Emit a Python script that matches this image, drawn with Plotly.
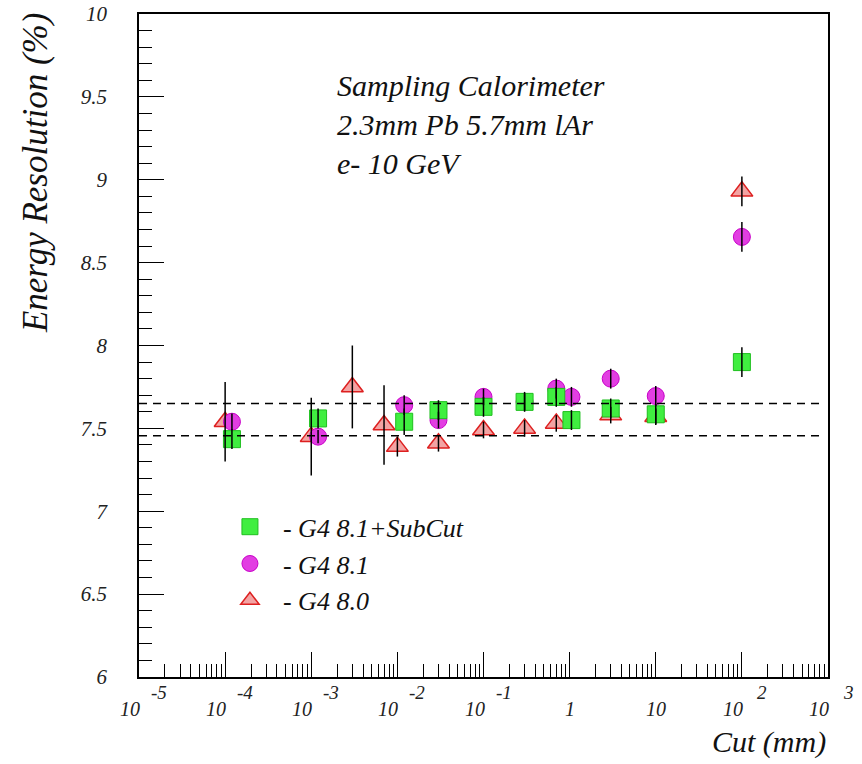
import plotly.graph_objects as go

# ---------------- data ----------------
cut_g480 = [1e-4, 1e-3, 3e-3, 7e-3, 1e-2, 3e-2, 0.1, 0.3, 0.7, 3, 10, 100]
res_g480 = [7.54, 7.45, 7.75, 7.52, 7.39, 7.41, 7.49, 7.50, 7.53, 7.58, 7.57, 8.93]
err_g480 = [0.24, 0.235, 0.25, 0.24, 0.06, 0.05, 0.05, 0.05, 0.05, 0.05, 0.05, 0.09]

cut_g481 = [1.2e-4, 1.2e-3, 1.2e-2, 3e-2, 0.1, 0.3, 0.7, 1.05, 3, 10, 100]
res_g481 = [7.54, 7.45, 7.64, 7.55, 7.69, 7.66, 7.74, 7.69, 7.80, 7.695, 8.655]
err_g481 = [0.05, 0.04, 0.06, 0.05, 0.05, 0.05, 0.06, 0.06, 0.06, 0.06, 0.09]

cut_sub = [1.2e-4, 1.2e-3, 1.2e-2, 3e-2, 0.1, 0.3, 0.7, 1.05, 3, 10, 100]
res_sub = [7.435, 7.56, 7.54, 7.61, 7.63, 7.66, 7.69, 7.55, 7.62, 7.585, 7.90]
err_sub = [0.06, 0.06, 0.08, 0.06, 0.06, 0.06, 0.06, 0.06, 0.06, 0.06, 0.09]

ref_levels = [7.455, 7.65]
decades = [-5, -4, -3, -2, -1, 0, 1, 2, 3]
info_lines = ["Sampling Calorimeter", "2.3mm Pb 5.7mm lAr", "e- 10 GeV"]
names = ["- G4 8.0", "- G4 8.1", "- G4 8.1+SubCut"]

FONT = "Liberation Serif"
PAD = "&nbsp;&nbsp;"

fig = go.Figure()

# markers (drawn triangle -> circle -> square)
fig.add_trace(go.Scatter(x=cut_g480, y=res_g480, mode="markers", name=PAD + names[0],
                         marker=dict(symbol="triangle-up", size=19, color="#f3a3a3",
                                     line=dict(color="#dd2020", width=1.5))))
fig.add_trace(go.Scatter(x=cut_g481, y=res_g481, mode="markers", name=PAD + names[1],
                         marker=dict(symbol="circle", size=17, color="#e23ee2",
                                     line=dict(color="#c800c8", width=1))))
fig.add_trace(go.Scatter(x=cut_sub, y=res_sub, mode="markers", name=PAD + names[2],
                         marker=dict(symbol="square", size=17, color="#40ee40",
                                     line=dict(color="#1fbf1f", width=1))))

# error bars drawn on top
for xs, ys, es in [(cut_g480, res_g480, err_g480), (cut_g481, res_g481, err_g481),
                   (cut_sub, res_sub, err_sub)]:
    fig.add_trace(go.Scatter(x=xs, y=ys, mode="markers", showlegend=False,
                             hoverinfo="skip",
                             marker=dict(size=1, color="rgba(0,0,0,0)"),
                             error_y=dict(type="data", array=es, visible=True,
                                          color="black", thickness=1.5, width=0)))

# dashed reference lines
for lv in ref_levels:
    fig.add_shape(type="line", xref="paper", yref="y", x0=0, x1=0.99, y0=lv, y1=lv,
                  line=dict(color="black", width=1.5, dash="8px,6px"))

# minor tick values for log axis
minor_vals = [m * 10 ** k for k in decades[:-1] for m in range(2, 10)]

fig.update_xaxes(type="log", range=[-5, 3], showgrid=False, zeroline=False,
                 showline=True, linecolor="black", linewidth=1.5, mirror=True,
                 ticks="inside", ticklen=25, tickwidth=1.2, tickcolor="black",
                 tickmode="array", tickvals=[10 ** k for k in decades],
                 showticklabels=False, automargin=False,
                 minor=dict(ticks="inside", ticklen=13, tickwidth=1.2, tickcolor="black",
                            tickmode="array", tickvals=minor_vals, showgrid=False))
fig.update_yaxes(range=[6, 10], showgrid=False, zeroline=False,
                 showline=True, linecolor="black", linewidth=1.5, mirror=True,
                 ticks="inside", ticklen=25, tickwidth=1.2, tickcolor="black",
                 dtick=0.5, tick0=6, ticklabelstandoff=26, automargin=False,
                 tickfont=dict(family=FONT, size=21, color="#222", style="italic"),
                 minor=dict(ticks="inside", ticklen=13, tickwidth=1.2, tickcolor="black",
                            dtick=0.1, showgrid=False))

ann = []
# x tick labels in ROOT style
for k in decades:
    if k == 0:
        ann.append(dict(x=k, y=0, xref="x", yref="paper", text="<i>1</i>", showarrow=False,
                        yanchor="top", yshift=-19, font=dict(family=FONT, size=20, color="#222")))
    elif k == 1:
        ann.append(dict(x=k, y=0, xref="x", yref="paper", text="<i>10</i>", showarrow=False,
                        yanchor="top", yshift=-19, font=dict(family=FONT, size=20, color="#222")))
    else:
        ann.append(dict(x=k, y=0, xref="x", yref="paper", text="<i>10</i>", showarrow=False,
                        yanchor="top", yshift=-19, xshift=-9,
                        font=dict(family=FONT, size=20, color="#222")))
        ann.append(dict(x=k, y=0, xref="x", yref="paper", text="<i>%d</i>" % k, showarrow=False,
                        yanchor="top", yshift=-3, xshift=20,
                        font=dict(family=FONT, size=19, color="#222")))

# info text (one block, three lines)
ann.append(dict(x=0.2845, y=0.8326, xref="paper", yref="paper",
                text="<br>".join("<i>%s</i>" % s for s in info_lines),
                showarrow=False, xanchor="left", yanchor="middle", align="left",
                font=dict(family=FONT, size=30, color="#111")))

# axis titles
ann.append(dict(x=-0.151, y=0.76, xref="paper", yref="paper", text="<i>Energy Resolution (%)</i>",
                textangle=-90, showarrow=False, xanchor="center", yanchor="middle",
                font=dict(family=FONT, size=35, color="#111")))
ann.append(dict(x=1.0, y=0, xref="paper", yref="paper", text="<i>Cut (mm)</i>",
                showarrow=False, xanchor="right", yanchor="top", yshift=-46,
                font=dict(family=FONT, size=30, color="#111")))

fig.update_layout(width=862, height=764, plot_bgcolor="white", paper_bgcolor="white",
                  margin=dict(l=139, r=34, t=14, b=87, autoexpand=False),
                  annotations=ann,
                  legend=dict(x=0.132, y=0.262, xanchor="left", yanchor="top",
                              traceorder="reversed", bgcolor="rgba(0,0,0,0)",
                              font=dict(family=FONT, size=26, color="#111", style="italic"),
                              itemwidth=30))

fig.write_html("out.html")
